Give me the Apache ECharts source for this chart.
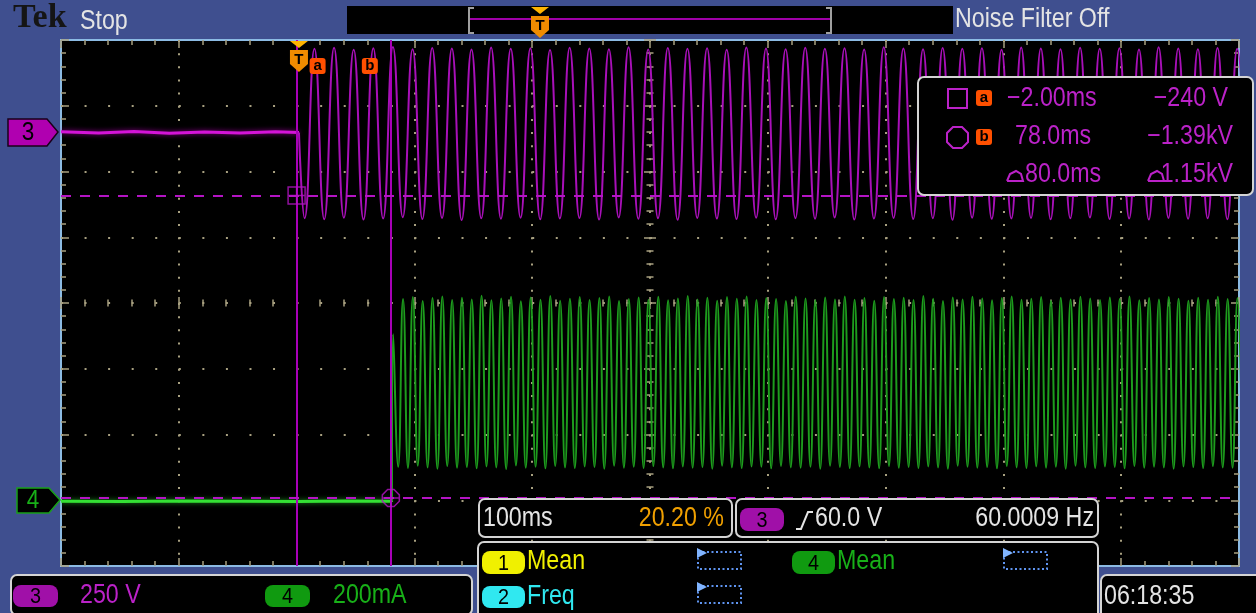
<!DOCTYPE html>
<html><head><meta charset="utf-8">
<script src="https://cdn.jsdelivr.net/npm/echarts@6/dist/echarts.min.js"></script>
<style>html,body{margin:0;padding:0;background:#3f4f8f;overflow:hidden}#c{width:1256px;height:613px}</style>
</head><body><div id="c"></div>
<script>
// ================= DATA =================
const timeRange = [-202, 798];        // ms : 10 div x 100 ms, trigger at 20.20 %
const ch3Range = [-1648.3, 351.7];    // V  : 8 div x 250 V
const ch4Range = [-200, 1400];        // mA : 8 div x 200 mA

// channel 3 (voltage) before trigger
const ch3PreTimes  = [-202, -170, -140, -110, -80, -50, -20, 0];
const ch3PreValues = [3, -2, 4, -3, 2, -2, 3, 0];
// channel 3 after trigger : successive extremes (trough, peak, ...)
const ch3ExtStart = 4.8;       // ms
const ch3HalfPeriod = 8.333;   // ms (60 Hz)
const ch3Extremes = [
 -326, 318, -330, 322, -324, 315, -331, 320, -327, 325,
 -322, 317, -329, 321, -325, 319, -333, 316, -326, 323,
 -328, 318, -324, 320, -330, 314, -327, 322, -325, 319,
 -331, 317, -323, 324, -328, 316, -326, 321, -332, 318,
 -325, 320, -327, 315, -329, 323, -324, 319, -330, 317,
 -326, 322, -328, 318, -323, 320, -331, 316, -327, 324,
 -325, 319, -329, 317, -326, 321, -332, 318, -324, 320,
 -328, 315, -327, 323, -325, 319, -330, 317, -326, 322,
 -323, 318, -329, 320, -327, 316, -331, 324, -325, 319,
 -328, 317, -326, 321, -330, 318, -325];

// channel 4 (current) before start
const ch4PreTimes  = [-202, -150, -100, -50, 0, 40, 79];
const ch4PreValues = [-3, -4, -2, -3, -4, -2, -3];
const ch4StartPoint = [80, 505];
const ch4ExtStart = 84.2;      // ms
const ch4HalfPeriod = 4.1667;  // ms (120 Hz)
const ch4Extremes = [
 102,612, 98,618, 105,606, 100,615, 96,620, 104,609, 99,616, 101,611, 97,622, 103,608,
 100,614, 95,619, 106,605, 99,617, 102,610, 97,621, 104,607, 100,613, 98,618, 103,609,
 101,615, 96,620, 105,606, 99,612, 102,617, 98,610, 104,619, 100,608, 97,614, 103,621,
 99,611, 101,616, 96,607, 105,618, 100,613, 98,620, 103,609, 102,615, 97,612, 104,606,
 100,619, 99,614, 102,608, 96,617, 105,611, 101,620, 98,610, 103,615, 100,607, 97,618,
 104,612, 99,616, 101,609, 98,621, 103,613, 100,606, 96,617, 105,611, 102,619, 99,614,
 101,608, 97,615, 104,620, 100,610, 98,613, 103,618, 99,607, 102,616, 96,611, 105,619,
 100,614, 98,609, 103,617, 101,612, 97,620, 104,608, 99,615, 102,611, 100,618, 96,613,
 103,607, 101,616, 98,610, 104,619, 100,612, 99,615, 102];

// cursors
const cursorTimes = [-2.00, 78.0];     // ms
const cursorVolts = [-240, -1390];     // V
// status texts
const timebase = '100ms', trigPos = '20.20 %', trigLevel = '60.0 V', trigFreq = '60.0009 Hz';
const ch3Scale = '250 V', ch4Scale = '200mA', clock = '06:18:35';

// ================= BUILD =================
function pairs(ts, vs) { return ts.map((t, i) => [t, vs[i]]); }
function extremes(start, step, vs) { return vs.map((v, i) => [start + i * step, v]); }
const ch3Pre = pairs(ch3PreTimes, ch3PreValues);
const ch3Post = [[0, 0]].concat(extremes(ch3ExtStart, ch3HalfPeriod, ch3Extremes));
const ch4Pre = pairs(ch4PreTimes, ch4PreValues);
const ch4Post = [[79, ch4PreValues[ch4PreValues.length - 1]], ch4StartPoint].concat(extremes(ch4ExtStart, ch4HalfPeriod, ch4Extremes));

const GRID = {left: 61, top: 40, width: 1178, height: 526};
const TICK = '#a8a080';
const FONT = '27px "Liberation Sans", Arial, sans-serif';
const PURPLE_T = '#bb22c8', GREEN_T = '#18b018', WHITE = '#e4e4e4';

function divAxis(extra) {
  return Object.assign({
    type: 'value', gridIndex: 0, interval: 1,
    axisLabel: {show: false},
    axisLine: {show: false, onZero: false},
    axisTick: {show: true, inside: true, length: 8, lineStyle: {color: TICK, width: 1.5}},
    minorTick: {show: true, splitNumber: 5, length: 5, lineStyle: {color: TICK, width: 1.5}},
    splitLine: {show: false}, minorSplitLine: {show: false}
  }, extra);
}
function centerAxis(extra, inside, idx) {
  return Object.assign(divAxis({}), {
    axisLine: {show: true, onZero: true, onZeroAxisIndex: idx, lineStyle: {color: 'rgba(0,0,0,0)'}},
    axisTick: {show: true, inside: inside, length: 6, lineStyle: {color: TICK, width: 1.5}},
    minorTick: {show: true, splitNumber: 5, length: 3.5, lineStyle: {color: TICK, width: 1.5}}
  }, extra);
}

const option = {
  animation: false,
  backgroundColor: '#3f4f8f',
  grid: [Object.assign({show: true, backgroundColor: '#000', borderColor: '#8cbbe4', borderWidth: 2, containLabel: false, outerBoundsMode: 'none'}, GRID)],
  xAxis: [
    {type: 'value', min: timeRange[0], max: timeRange[1], show: false, axisLine: {onZero: false}},
    divAxis({min: 0, max: 10, position: 'top',
      splitLine: {show: true, showMinLine: false, showMaxLine: false, lineStyle: {color: TICK, width: 2, type: [2, 11.15]}}}),
    divAxis({min: 0, max: 10, position: 'bottom'}),
    centerAxis({min: -5, max: 5, position: 'bottom'}, true, 4),
    centerAxis({min: -5, max: 5, position: 'bottom'}, false, 4)
  ],
  yAxis: [
    {type: 'value', min: ch3Range[0], max: ch3Range[1], show: false, axisLine: {onZero: false}},
    {type: 'value', min: ch4Range[0], max: ch4Range[1], show: false, axisLine: {onZero: false}},
    divAxis({min: 0, max: 8, position: 'left',
      splitLine: {show: true, showMinLine: false, showMaxLine: false, lineStyle: {color: TICK, width: 2, type: [2, 21.56]}}}),
    divAxis({min: 0, max: 8, position: 'right'}),
    centerAxis({min: -4, max: 4, position: 'left'}, true, 3),
    centerAxis({min: -4, max: 4, position: 'left'}, false, 3)
  ],
  series: [
    {type: 'line', name: 'ch4pre', xAxisIndex: 0, yAxisIndex: 1, data: ch4Pre, showSymbol: false, silent: true, z: 3,
      lineStyle: {color: '#34e034', width: 3, shadowBlur: 5, shadowColor: 'rgba(40,200,40,0.7)'}},
    {type: 'line', name: 'ch4', xAxisIndex: 0, yAxisIndex: 1, data: ch4Post, showSymbol: false, silent: true, smooth: 0.5, z: 3,
      lineStyle: {color: '#1d9c1d', width: 2}},
    {type: 'line', name: 'ch3pre', xAxisIndex: 0, yAxisIndex: 0, data: ch3Pre, showSymbol: false, silent: true, z: 4,
      lineStyle: {color: '#d414d8', width: 3, shadowBlur: 5, shadowColor: 'rgba(200,0,200,0.7)'}},
    {type: 'line', name: 'ch3', xAxisIndex: 0, yAxisIndex: 0, data: ch3Post, showSymbol: false, silent: true, smooth: 0.5, z: 4,
      lineStyle: {color: '#a810b8', width: 2}},
    {type: 'line', name: 'cursors', xAxisIndex: 0, yAxisIndex: 0, data: [], z: 6, silent: true,
      markLine: {silent: true, symbol: ['none', 'none'], label: {show: false}, animation: false,
        data: [
          {xAxis: cursorTimes[0], lineStyle: {color: '#a800b8', width: 2, type: 'solid'}},
          {xAxis: cursorTimes[1], lineStyle: {color: '#a800b8', width: 2, type: 'solid'}},
          {yAxis: cursorVolts[0], lineStyle: {color: '#b414c4', width: 2, type: [10, 9]}},
          {yAxis: cursorVolts[1], lineStyle: {color: '#b414c4', width: 2, type: [10, 9]}}
        ]}},
    {type: 'scatter', xAxisIndex: 0, yAxisIndex: 0, data: [[cursorTimes[0], cursorVolts[0]]], z: 7, silent: true,
      symbol: 'path://M0 0H16V16H0Z M8 0V16 M0 8H16', symbolSize: 17,
      itemStyle: {color: 'rgba(0,0,0,0)', borderColor: '#b414c4', borderWidth: 1.5}},
    {type: 'scatter', xAxisIndex: 0, yAxisIndex: 0, data: [[cursorTimes[1], cursorVolts[1]]], z: 7, silent: true,
      symbol: 'path://M5 0H11L16 5V11L11 16H5L0 11V5Z M8 0V16 M0 8H16', symbolSize: 17,
      itemStyle: {color: 'rgba(0,0,0,0)', borderColor: '#b414c4', borderWidth: 1.5}}
  ]
};

const chart = echarts.init(document.getElementById('c'));
chart.setOption(option);

// ================= CHROME =================
function txt(x, y, s, color, o) {
  o = o || {};
  return {type: 'text', x: x, y: y, z: 100, scaleX: o.sx == null ? 0.86 : o.sx,
    style: {text: s, fill: color, font: o.font || FONT, textAlign: o.align || 'left', textVerticalAlign: 'middle'}};
}
function rect(x, y, w, h, fill, stroke, lw, r, dash) {
  return {type: 'rect', z: 99, shape: {x: x, y: y, width: w, height: h, r: r || 0},
    style: {fill: fill || 'none', stroke: stroke || 'none', lineWidth: lw || 0, lineDash: dash || null}};
}
function poly(pts, fill) { return {type: 'polygon', z: 100, shape: {points: pts}, style: {fill: fill}}; }
function pline(pts, stroke, lw) { return {type: 'polyline', z: 100, shape: {points: pts}, style: {stroke: stroke, lineWidth: lw, fill: 'none'}}; }
function pill(x, y, w, h, fill, label) {
  return [rect(x, y, w, h, fill, null, 0, 8), txt(x + w / 2, y + h / 2 + 1, label, '#000', {align: 'center', font: '22px "Liberation Sans", Arial, sans-serif', sx: 0.9})];
}
function trigMarker(cx, top) {
  return [
    poly([[cx - 9, top], [cx + 9, top], [cx, top + 7]], '#ffb400'),
    poly([[cx - 9, top + 9], [cx + 9, top + 9], [cx + 9, top + 23], [cx, top + 31], [cx - 9, top + 23]], '#f08c00'),
    txt(cx, top + 19, 'T', '#000', {align: 'center', font: 'bold 15px "Liberation Sans", Arial, sans-serif', sx: 1})
  ];
}
function cursorIcon(x, y, ch) {
  return [rect(x, y, 16, 16, '#ff5000', null, 0, 3),
    txt(x + 8, y + 8, ch, '#000', {align: 'center', font: 'bold 15px "Liberation Sans", Arial, sans-serif', sx: 1})];
}
function fmtT(v) { return v.toPrecision(3).replace('-', '\u2212') + 'ms'; }
function fmtV(v) {
  const s = Math.abs(v) >= 1000 ? (v / 1000).toFixed(2) + 'kV' : v.toFixed(0) + ' V';
  return s.replace('-', '\u2212');
}
function dotBox(x, y) {
  return [rect(x, y, 43, 17, 'none', '#5f94f0', 2, 0, [2, 2.5]),
    poly([[x - 1, y - 4], [x + 9, y + 1], [x - 1, y + 6]], '#80b4ff')];
}

const xT = chart.convertToPixel({xAxisIndex: 0}, 0);
const xA = chart.convertToPixel({xAxisIndex: 0}, cursorTimes[0]);
const xB = chart.convertToPixel({xAxisIndex: 0}, cursorTimes[1]);
const dT = cursorTimes[1] - cursorTimes[0];
const dV = Math.abs(cursorVolts[1] - cursorVolts[0]);

let g = [];
// top status bar
g.push(txt(13, 18, 'Tek', '#151515', {font: 'bold 34px "Liberation Serif", serif', sx: 1}));
g.push(txt(80, 22, 'Stop', WHITE));
g.push(rect(347, 6, 606, 28, '#000'));
g.push(pline([[474, 8], [469, 8], [469, 33], [474, 33]], '#a0a0a0', 2));
g.push(pline([[826, 8], [831, 8], [831, 33], [826, 33]], '#a0a0a0', 2));
g.push({type: 'line', z: 100, shape: {x1: 470, y1: 19, x2: 830, y2: 19}, style: {stroke: '#a000a8', lineWidth: 2}});
g = g.concat(trigMarker(540, 7));
g.push(txt(955, 20, 'Noise Filter Off', WHITE));
// plot trigger + cursor labels
g = g.concat(trigMarker(xT, 41));
g = g.concat(cursorIcon(xA + 13, 58, 'a'));
g = g.concat(cursorIcon(xB - 29, 58, 'b'));
// channel ground tags
g.push({type: 'polygon', z: 100, shape: {points: [[8, 119], [47, 119], [58, 132], [47, 146], [8, 146]]}, style: {fill: '#b000b0', stroke: '#1a001a', lineWidth: 1.5}});
g.push(txt(28, 133, '3', '#000', {align: 'center', font: '25px "Liberation Sans", Arial, sans-serif', sx: 0.9}));
g.push({type: 'polygon', z: 100, shape: {points: [[17, 488], [49, 488], [60, 500], [49, 513], [17, 513]]}, style: {fill: '#000', stroke: '#18a018', lineWidth: 1.5}});
g.push(txt(33, 501, '4', GREEN_T, {align: 'center', font: '25px "Liberation Sans", Arial, sans-serif', sx: 0.9}));
// cursor readout
g.push(rect(918, 77, 335, 118, '#000', '#d4d4d4', 2, 6));
g.push(rect(948, 89, 19, 19, 'none', PURPLE_T, 2));
g = g.concat(cursorIcon(976, 90, 'a'));
g.push(txt(1007, 99, fmtT(cursorTimes[0]), PURPLE_T));
g.push(txt(1228, 99, fmtV(cursorVolts[0]), PURPLE_T, {align: 'right'}));
g.push({type: 'polygon', z: 100, shape: {points: [[953, 127], [962, 127], [968, 133], [968, 142], [962, 148], [953, 148], [947, 142], [947, 133]]}, style: {fill: 'none', stroke: PURPLE_T, lineWidth: 2}});
g = g.concat(cursorIcon(976, 129, 'b'));
g.push(txt(1015, 137, fmtT(cursorTimes[1]), PURPLE_T));
g.push(txt(1233, 137, fmtV(cursorVolts[1]), PURPLE_T, {align: 'right'}));
g.push(pline([[1007, 181], [1010, 174], [1016, 171], [1021, 174], [1023, 181], [1007, 181]], PURPLE_T, 2));
g.push(txt(1025, 175, fmtT(dT), PURPLE_T));
g.push(pline([[1148, 181], [1151, 174], [1157, 171], [1162, 174], [1164, 181], [1148, 181]], PURPLE_T, 2));
g.push(txt(1233, 175, fmtV(dV), PURPLE_T, {align: 'right'}));
// bottom left scale box
g.push(rect(11, 575, 461, 40, '#000', '#d4d4d4', 2, 6));
g = g.concat(pill(13, 585, 45, 22, '#a010a8', '3'));
g.push(txt(80, 596, ch3Scale, PURPLE_T));
g = g.concat(pill(265, 585, 45, 22, '#109a10', '4'));
g.push(txt(333, 596, ch4Scale, GREEN_T));
// timebase box
g.push(rect(479, 499, 253, 38, '#000', '#d4d4d4', 2, 6));
g.push(txt(483, 519, timebase, WHITE));
g.push(txt(724, 519, trigPos, '#f0a000', {align: 'right'}));
// trigger box
g.push(rect(736, 499, 362, 38, '#000', '#d4d4d4', 2, 6));
g = g.concat(pill(740, 508, 44, 23, '#a010a8', '3'));
g.push(pline([[796, 529], [801, 529], [808, 512], [813, 512]], WHITE, 2));
g.push(txt(815, 519, trigLevel, WHITE));
g.push(txt(1094, 519, trigFreq, WHITE, {align: 'right'}));
// measurement box
g.push(rect(478, 542, 620, 80, '#000', '#d4d4d4', 2, 6));
g = g.concat(pill(482, 551, 43, 23, '#f0f000', '1'));
g.push(txt(527, 562, 'Mean', '#f0f000'));
g = g.concat(pill(482, 586, 43, 22, '#30e8f0', '2'));
g.push(txt(527, 597, 'Freq', '#30e8f0'));
g = g.concat(dotBox(698, 552));
g = g.concat(dotBox(698, 586));
g = g.concat(pill(792, 551, 43, 23, '#109a10', '4'));
g.push(txt(837, 562, 'Mean', GREEN_T));
g = g.concat(dotBox(1004, 552));
// clock
g.push(rect(1101, 575, 170, 45, '#000', '#d4d4d4', 2, 6));
g.push(txt(1104, 597, clock, WHITE));

chart.setOption({graphic: g});
</script></body></html>
